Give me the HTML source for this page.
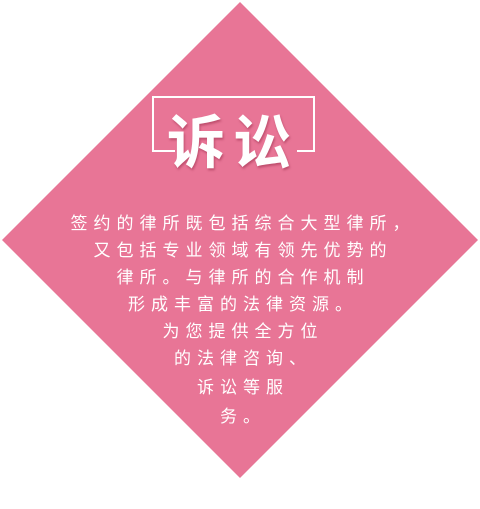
<!DOCTYPE html>
<html><head><meta charset="utf-8"><style>
html,body{margin:0;padding:0;background:#fff;}
#wrap{position:relative;width:480px;height:509px;overflow:hidden;font-family:"Liberation Sans","Noto Sans CJK SC",sans-serif;}
.line{position:absolute;left:0;width:480px;text-align:center;color:#fff;font-size:17px;letter-spacing:6px;padding-left:6px;box-sizing:border-box;line-height:20px;white-space:nowrap;}
</style></head><body>
<div id="wrap">
<svg width="480" height="509" style="position:absolute;left:0;top:0">
<polygon points="240,2 478,240 240,478 2,240" fill="#e87596"/>
<g stroke="#fff" stroke-width="2" fill="none">
<polyline points="175,151 153,151 153,97 314,97 314,151 297,151"/>
</g>
<text x="233" y="163" text-anchor="middle" fill="#fff" font-size="58" font-weight="bold" font-family="Liberation Sans, Noto Sans CJK SC, sans-serif" letter-spacing="8" style="filter:drop-shadow(1px 2px 1px rgba(150,40,70,0.5))">诉讼</text>
</svg>
<div class="line" style="top:214px">签约的律所既包括综合大型律所，</div>
<div class="line" style="top:241px">又包括专业领域有领先优势的</div>
<div class="line" style="top:268px">律所。与律所的合作机制</div>
<div class="line" style="top:295px">形成丰富的法律资源。</div>
<div class="line" style="top:322px">为您提供全方位</div>
<div class="line" style="top:349px">的法律咨询、</div>
<div class="line" style="top:378px">诉讼等服</div>
<div class="line" style="top:407px">务。</div>
</div>
</body></html>
